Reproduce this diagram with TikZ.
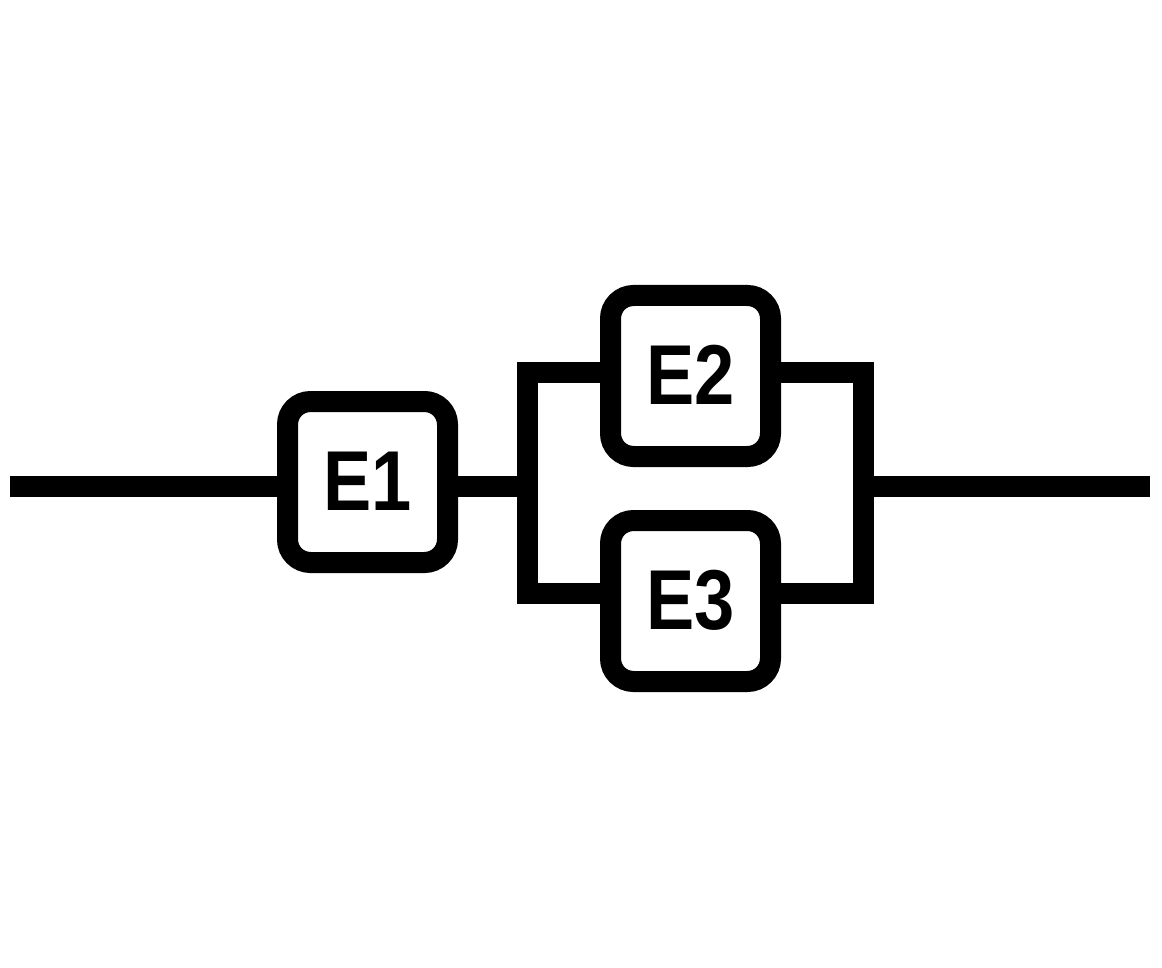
\documentclass[tikz,border=0pt]{standalone}
\usepackage{fontspec}
\setmainfont{Liberation Sans}
\newfontfamily\elemfont[FakeStretch=0.85]{Liberation Sans}
\begin{document}
\begin{tikzpicture}[x=1pt, y=-1pt, line width=21pt,
    elem/.style={draw, rounded corners=23pt, minimum width=160pt, minimum height=161pt,
                 inner sep=0pt, text height=61pt, text depth=5pt,
                 font=\elemfont\fontsize{85}{85}\selectfont\bfseries}]
                \useasboundingbox (0,0) rectangle (1162,968);
                \node[elem] (e1) at (367.5, 482) {E1};
                \node[elem] (e2) at (690.5, 376) {E2};
                \node[elem] (e3) at (690.5, 601) {E3};
                \coordinate (in)  at (10, 486.5);
                \coordinate (out) at (1150, 486.5);
                \coordinate (sl)  at (527.5, 486.5);
                \coordinate (sr)  at (863, 486.5);
                \coordinate (tl)  at (527.5, 372.5);
                \coordinate (bl)  at (527.5, 593);
                \coordinate (tr)  at (863, 372.5);
                \coordinate (br)  at (863, 593);
                \draw (in) -- (e1.west |- in);
                \draw (e1.east |- sl) -- (sl);
                \draw (e2.west |- tl) -- (tl) -- (bl) -- (e3.west |- bl);
                \draw (e2.east |- tr) -- (tr) -- (br) -- (e3.east |- br);
                \draw (sr) -- (out);
            \end{tikzpicture}
\end{document}
